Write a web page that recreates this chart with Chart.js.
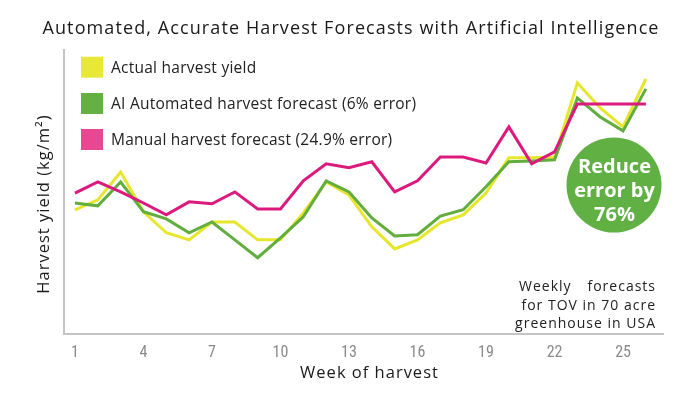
<!DOCTYPE html>
<html><head><meta charset="utf-8">
<script src="https://cdn.jsdelivr.net/npm/chart.js@4/dist/chart.umd.min.js"></script>
<style>html,body{margin:0;padding:0;background:#fff}#wrap{width:700px;height:394px;position:relative}</style>
</head><body><div id="wrap"><canvas id="c"></canvas></div>
<script>
const weeks = [1,2,3,4,5,6,7,8,9,10,11,12,13,14,15,16,17,18,19,20,21,22,23,24,25,26];
const actualYield    = [4.37,4.72,5.70,4.30,3.56,3.31,3.94,3.94,3.31,3.31,4.26,5.35,4.89,3.77,2.99,3.31,3.91,4.19,4.96,6.20,6.20,6.23,8.84,7.96,7.29,8.98];
const aiForecast     = [4.61,4.51,5.35,4.30,4.05,3.56,3.94,3.31,2.68,3.38,4.12,5.39,5.00,4.08,3.45,3.49,4.15,4.37,5.18,6.06,6.09,6.13,8.31,7.64,7.15,8.63];
const manualForecast = [4.96,5.35,5.00,4.61,4.19,4.65,4.58,5.00,4.40,4.40,5.39,5.99,5.85,6.06,5.00,5.39,6.23,6.23,6.02,7.29,5.99,6.41,8.10,8.10,8.10,8.10];
const tickWeeks = [1,4,7,10,13,16,19,22,25];
const seriesLabels = ['Actual harvest yield','AI Automated harvest forecast (6% error)','Manual harvest forecast (24.9% error)'];
const chartTitle = 'Automated, Accurate Harvest Forecasts with Artificial Intelligence';
const xTitle = 'Week of harvest';
const yTitle = 'Harvest yield (kg/m²)';
const noteLines = ['Weekly','forecasts','for TOV in 70 acre','greenhouse in USA'];
const badgeLines = ['Reduce','error by','76%'];

const seriesColors = ['#e6e62c','#61ad3d','#dc1a7e'];
const legendBoxColors = ['#e8e838','#64b042','#e84892'];
const FONT = '"Open Sans", "DejaVu Sans", sans-serif';

const pts = arr => weeks.map((w,i)=>({x:w,y:arr[i]}));

const overlay = {
  id:'overlay',
  afterDatasetsDraw(chart){
    const ctx = chart.ctx;
    const area = chart.chartArea;
    ctx.save();
    ctx.fillStyle='#1a1a1a';
    // title
    ctx.letterSpacing='1.1px';
    ctx.font='18px '+FONT;
    ctx.textAlign='left';
    ctx.textBaseline='alphabetic';
    ctx.fillText(chartTitle, 42.5, 34);
    // axis titles
    ctx.letterSpacing='1px';
    ctx.font='16.5px '+FONT;
    ctx.textAlign='center';
    ctx.fillText(xTitle, (area.left+area.right)/2+6, 378);
    ctx.save();
    ctx.translate(48.5, 204);
    ctx.rotate(-Math.PI/2);
    ctx.fillText(yTitle, 0, 0);
    ctx.restore();
    // legend
    const rows=[67.2,103.5,139.5];
    ctx.letterSpacing='0.25px';
    ctx.font = '15.5px '+FONT;
    ctx.textAlign='left';
    chart.data.datasets.forEach((ds,i)=>{
      ctx.fillStyle = legendBoxColors[i];
      ctx.fillRect(81, rows[i]-10.5, 22, 21);
      ctx.fillStyle = '#222';
      ctx.fillText(ds.label, 111, rows[i]+5.5);
    });
    // note
    ctx.letterSpacing='1px';
    ctx.font = '14px '+FONT;
    ctx.fillStyle='#222';
    ctx.textAlign='left';
    ctx.fillText(noteLines[0], 519, 291);
    ctx.textAlign='right';
    ctx.fillText(noteLines[1], 656, 291);
    ctx.fillText(noteLines[2], 656, 310);
    ctx.fillText(noteLines[3], 656, 328);
    // badge
    ctx.letterSpacing='0px';
    ctx.beginPath();
    ctx.arc(614,185,47.5,0,Math.PI*2);
    ctx.fillStyle='#60b043';
    ctx.fill();
    ctx.fillStyle='#fff';
    ctx.textAlign='center';
    ctx.font='bold 20px '+FONT;
    const by=[173,197,221];
    badgeLines.forEach((t,i)=>ctx.fillText(t,614.5,by[i]));
    ctx.restore();
  }
};

new Chart(document.getElementById('c'),{
  type:'line',
  data:{datasets:[
    {label:seriesLabels[0], data:pts(actualYield), borderColor:seriesColors[0], order:2},
    {label:seriesLabels[1], data:pts(aiForecast), borderColor:seriesColors[1], order:1},
    {label:seriesLabels[2], data:pts(manualForecast), borderColor:seriesColors[2], order:0}
  ]},
  options:{
    responsive:true, maintainAspectRatio:false, animation:false,
    layout:{padding:{left:64,right:37,top:50,bottom:21}},
    elements:{line:{borderWidth:3,tension:0,fill:false,borderJoinStyle:'miter'},point:{radius:0,hoverRadius:0}},
    plugins:{legend:{display:false},tooltip:{enabled:false},title:{display:false}},
    scales:{
      x:{type:'linear',min:0.52,max:26.75,
        afterBuildTicks:s=>{s.ticks=tickWeeks.map(v=>({value:v}));},
        grid:{display:false,drawTicks:false},
        border:{display:true,color:'#c4c4c4',width:2},
        ticks:{autoSkip:false,maxRotation:0,padding:10,color:'#8a8a8a',
          font:{family:'"Liberation Sans Narrow", "Roboto Condensed", Roboto, sans-serif',size:16}}
      },
      y:{min:0,max:10,
        grid:{display:false,drawTicks:false},
        border:{display:true,color:'#c4c4c4',width:2},
        ticks:{display:false}
      }
    }
  },
  plugins:[overlay]
});
</script></body></html>
